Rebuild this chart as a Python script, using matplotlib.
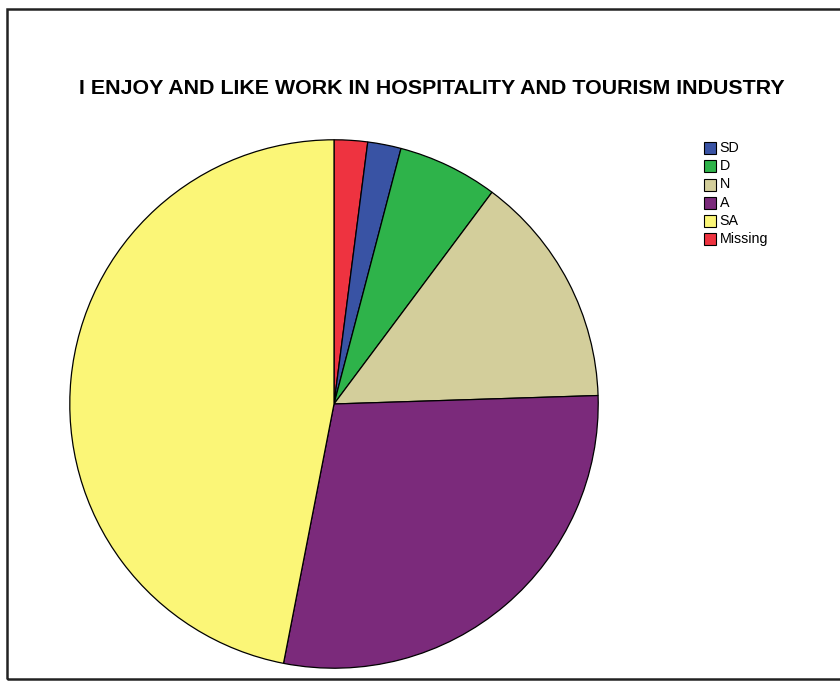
import matplotlib
matplotlib.use("Agg")
import matplotlib.pyplot as plt
from matplotlib.patches import Rectangle

plt.rcParams['font.family'] = ['Liberation Sans', 'DejaVu Sans']

title = "I ENJOY AND LIKE WORK IN HOSPITALITY AND TOURISM INDUSTRY"

# Response counts, in drawing order clockwise from 12 o'clock
slice_labels = ["Missing", "SD", "D", "N", "A", "SA"]
slice_counts = [2, 2, 6, 14, 28, 46]
slice_colors = ["#EE3340", "#3953A4", "#2EB34A", "#D3CE9B", "#7B2A7B", "#FBF677"]

# Legend order
legend_labels = ["SD", "D", "N", "A", "SA", "Missing"]

W, H = 840, 681
fig = plt.figure(figsize=(W / 100, H / 100), dpi=100)
fig.patch.set_facecolor("white")

# outer frame
fig.add_artist(Rectangle((7 / W, 1 - 679 / H), (W + 10 - 7) / W, (679 - 9) / H,
                         transform=fig.transFigure, fill=False,
                         edgecolor="#222222", linewidth=1.8))

fig.text(432 / W, 1 - 88 / H, title, ha="center", va="center",
         fontsize=15.4, fontweight="bold", color="black")

# pie axes: centre (334, 404) px, radius 265 px
cx, cy, r = 334, 404, 265
ax = fig.add_axes([(cx - r) / W, (H - cy - r) / H, 2 * r / W, 2 * r / H])
ax.pie(slice_counts, colors=slice_colors, startangle=90, counterclock=False,
       radius=1.0, wedgeprops=dict(edgecolor="black", linewidth=0.9))
ax.set_xlim(-1.003, 1.003)
ax.set_ylim(-1.003, 1.003)
ax.set_aspect("equal")
ax.axis("off")

# legend drawn as boxes and labels
color_of = dict(zip(slice_labels, slice_colors))
for i, lab in enumerate(legend_labels):
    yc = 148.3 + 18.1 * i
    fig.add_artist(Rectangle((704 / W, 1 - (yc + 6) / H), 12 / W, 12 / H,
                             transform=fig.transFigure,
                             facecolor=color_of[lab], edgecolor="black",
                             linewidth=0.8))
    fig.text(719.5 / W, 1 - yc / H, lab, ha="left", va="center",
             fontsize=10.3, color="black")

fig.savefig("out.png", dpi=100, facecolor="white")
